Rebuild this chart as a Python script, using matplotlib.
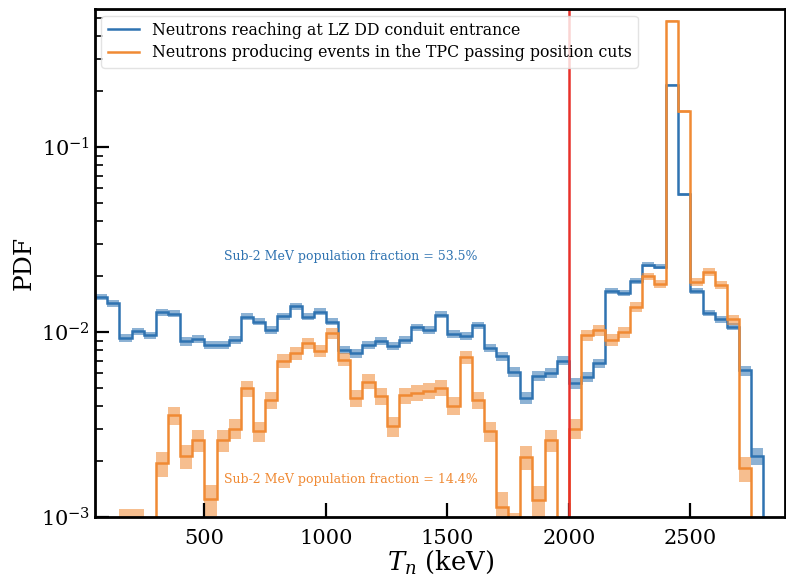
import matplotlib
matplotlib.use("Agg")
import matplotlib.pyplot as plt
import numpy as np

plt.rcParams['font.family'] = 'serif'
plt.rcParams['font.serif'] = ['DejaVu Serif']
plt.rcParams['mathtext.fontset'] = 'dejavuserif'

# bin edges in keV (50 keV bins)
edges = np.arange(50, 2851, 50)

# PDF per bin
blue_pdf = [0.0155, 0.0143, 0.0093, 0.0101, 0.0096, 0.0128, 0.0126, 0.0089,
            0.0092, 0.0085, 0.0085, 0.0091, 0.0121, 0.0114, 0.0103, 0.0122,
            0.0138, 0.0121, 0.0129, 0.0114, 0.0080, 0.0077, 0.0085, 0.0090,
            0.0084, 0.0091, 0.0106, 0.0103, 0.0124, 0.0098, 0.0095, 0.0109,
            0.0082, 0.0074, 0.0061, 0.0044, 0.0058, 0.0060, 0.0070, 0.0053,
            0.0057, 0.0068, 0.0167, 0.0163, 0.0189, 0.0231, 0.0226, 0.216,
            0.0557, 0.0167, 0.0127, 0.0117, 0.0107, 0.0062, 0.00214, 0.0]

orange_pdf = [0.0, 0.0, 0.0009, 0.0009, 0.0, 0.00195, 0.00355, 0.00213,
              0.0026, 0.00125, 0.0026, 0.0030, 0.00496, 0.0029, 0.0043, 0.0070,
              0.0077, 0.0087, 0.0079, 0.0099, 0.0071, 0.0044, 0.0054, 0.0045,
              0.0031, 0.00455, 0.0047, 0.0048, 0.0050, 0.0040, 0.0073, 0.0043,
              0.0029, 0.00113, 0.00085, 0.0021, 0.00123, 0.0026, 0.0, 0.0030,
              0.0096, 0.0102, 0.0091, 0.0100, 0.0137, 0.0200, 0.0182, 0.484,
              0.156, 0.0187, 0.0212, 0.0180, 0.0117, 0.00183, 0.0, 0.0]

blue_label = 'Neutrons reaching at LZ DD conduit entrance'
orange_label = 'Neutrons producing events in the TPC passing position cuts'
blue_frac = 53.5
orange_frac = 14.4
cut_kev = 2000

c_blue = '#2f73b1'
c_orange = '#f08a34'

fig = plt.figure(figsize=(7.86, 5.77), dpi=100)
ax = fig.add_axes([0.121, 0.104, 0.878, 0.880])


def draw(vals, color, label, k):
    v = np.array(vals)
    ok = v > 0
    # poisson-like band, relative error grows as 1/sqrt(value)
    rel = k / np.sqrt(v[ok])
    lo = v[ok] * (1 - rel)
    hi = v[ok] * (1 + rel)
    ax.bar(edges[:-1][ok], hi - lo, bottom=lo, width=np.diff(edges)[ok],
           align='edge', color=color, alpha=0.55, lw=0)
    ax.stairs(np.where(ok, v, 1e-9), edges, color=color, lw=1.8,
              baseline=None, label=label)


draw(blue_pdf, c_blue, blue_label, 0.0048)
draw(orange_pdf, c_orange, orange_label, 0.0068)

ax.axvline(cut_kev, color='#e8312a', lw=1.8)

ax.set_yscale('log')
ax.set_ylim(1e-3, 0.557)
ax.set_xlim(50, 2890)
ax.set_xticks([500, 1000, 1500, 2000, 2500])

ax.text(1103, 0.0255, f'Sub-2 MeV population fraction = {blue_frac}%',
        color=c_blue, ha='center', va='center', fontsize=9)
ax.text(1103, 0.0016, f'Sub-2 MeV population fraction = {orange_frac}%',
        color=c_orange, ha='center', va='center', fontsize=9)

ax.set_xlabel('$T_n$ (keV)', fontsize=18.5, labelpad=0)
ax.set_ylabel('PDF', fontsize=18)

ax.tick_params(which='major', direction='in', length=10, width=1.6,
               labelsize=15, top=False, right=False)
ax.tick_params(which='minor', direction='in', length=6, width=1.2,
               top=False, right=False)
ax.tick_params(axis='x', pad=9)
for s in ax.spines.values():
    s.set_linewidth(2)

leg = ax.legend(loc='upper left', fontsize=11.3, handlelength=2.0,
                borderaxespad=0.4, labelspacing=0.35)
leg.get_frame().set_edgecolor('#dddddd')

fig.savefig('out.png', dpi=100)
